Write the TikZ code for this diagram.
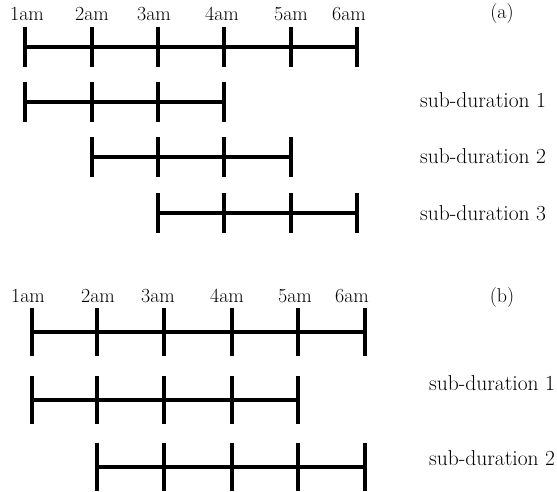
\documentclass[tikz,border=0pt]{standalone}
\begin{document}
\begin{tikzpicture}[x=1pt,y=-1pt,
  bar/.style={line width=3.2pt},
  tk/.style={line width=3.2pt},
  lbl/.style={font=\fontsize{20}{22}\selectfont, inner sep=0pt, anchor=base},
  sublbl/.style={font=\fontsize{21.5}{23}\selectfont, inner sep=0pt, anchor=base west}]
\useasboundingbox (0,0) rectangle (557,492);
% timeline macro: name, y, half tick height, list of x
\newcommand{\tline}[4]{%
  \foreach \xx [count=\i] in {#4} {
    \coordinate (#1-\i) at (\xx,#2);
    \coordinate (#1-\i-t) at (\xx,#2-#3);
    \coordinate (#1-\i-b) at (\xx,#2+#3);
    \draw[tk] (#1-\i-t) -- (#1-\i-b);
    \xdef\lastidx{\i}
  }
  \draw[bar] (#1-1) -- (#1-\lastidx);
}
% (a)
\tline{am}{47}{20}{25,92,158,224,291,357}
\tline{aa}{102}{20}{25,92,158,224}
\tline{ab}{157}{20}{92,158,224,291}
\tline{ac}{213}{20}{158,224,291,357}
\foreach \t/\xx in {1am/27,2am/92,3am/154,4am/222,5am/291,6am/349}
  \node[lbl] (la-\t) at (\xx,21) {\t};
\node[lbl] (capa) at (502,19) {(a)};
\node[sublbl] (sa1) at (420,108) {sub-duration 1};
\node[sublbl] (sa2) at (420,164) {sub-duration 2};
\node[sublbl] (sa3) at (420,220) {sub-duration 3};
% (b)
\tline{bm}{332}{24}{32,97,164,232,298,365}
\tline{ba}{400}{24}{32,97,164,232,298}
\tline{bb}{467}{24}{97,164,232,298,365}
\foreach \t/\xx in {1am/28,2am/98,3am/158,4am/227,5am/295,6am/352}
  \node[lbl] (lb-\t) at (\xx,302) {\t};
\node[lbl] (capb) at (502,302) {(b)};
\node[sublbl] (sb1) at (429,390) {sub-duration 1};
\node[sublbl] (sb2) at (429,465) {sub-duration 2};
\end{tikzpicture}
\end{document}
